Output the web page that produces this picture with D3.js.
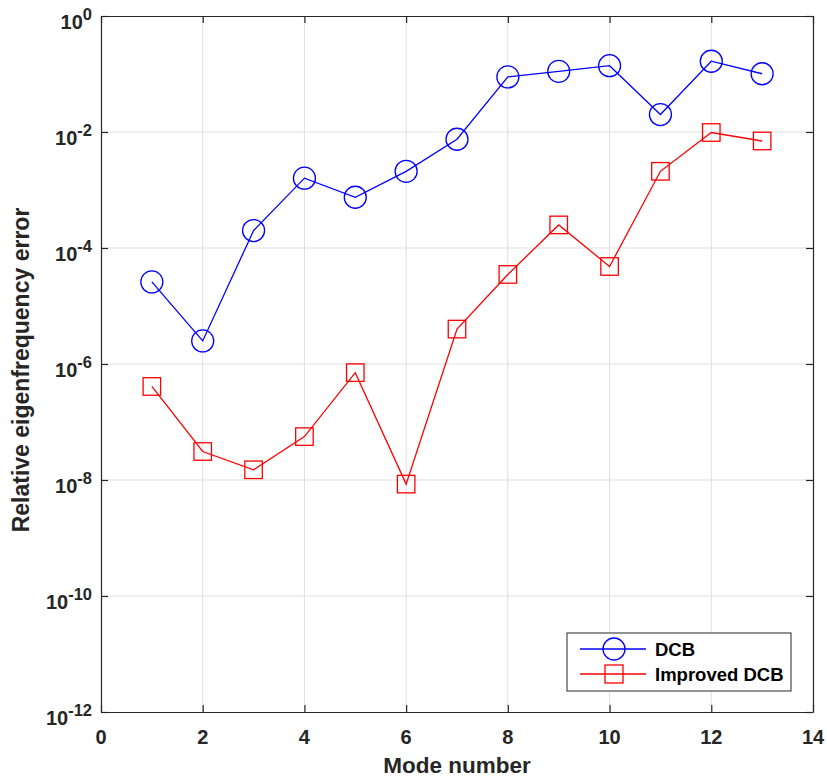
<!DOCTYPE html>
<head>
<meta charset="utf-8">
<title>Relative eigenfrequency error</title>
<script src="https://d3js.org/d3.v7.min.js"></script>
<style>
  body { margin: 0; background: #fff; }
  text { font-family: "Liberation Sans", Arial, sans-serif; font-weight: bold; fill: #262626; }
</style>
</head>
<body>
<div id="chart"></div>
<script>
//------------------------ DATA ------------------------//
const modes = [1, 2, 3, 4, 5, 6, 7, 8, 9, 10, 11, 12, 13];
const dcb = [2.6e-5, 2.5e-6, 2.0e-4, 1.6e-3, 7.5e-4, 2.1e-3, 7.5e-3,
             0.089, 0.111, 0.139, 0.020, 0.166, 0.101];
const improvedDcb = [4.1e-7, 3.1e-8, 1.5e-8, 5.6e-8, 7.1e-7, 8.5e-9, 4.0e-6,
                     3.5e-5, 2.5e-4, 4.8e-5, 2.1e-3, 9.8e-3, 7.0e-3];
const xTicks = [0, 2, 4, 6, 8, 10, 12, 14];
const yExps = [0, -2, -4, -6, -8, -10, -12];
const seriesNames = ["DCB", "Improved DCB"];

//------------------------ SETUP ------------------------//
const W = 827, H = 778;
const m = {left: 101, right: 813, top: 16, bottom: 712};
const axisCol = "#262626", gridCol = "#dfdfdf";

const svg = d3.select("#chart").append("svg")
    .attr("width", W).attr("height", H);

const x = d3.scaleLinear().domain([0, 14]).range([m.left, m.right]);
const y = d3.scaleLog().domain([1e-12, 1]).range([m.bottom, m.top]);

//------------------------ GRID ------------------------//
const grid = svg.append("g").attr("stroke", gridCol).attr("stroke-width", 1);
grid.selectAll(".gx").data(xTicks.slice(1, -1)).enter().append("line")
    .attr("x1", d => x(d)).attr("x2", d => x(d))
    .attr("y1", m.top).attr("y2", m.bottom);
grid.selectAll(".gy").data(yExps.slice(1, -1)).enter().append("line")
    .attr("x1", m.left).attr("x2", m.right)
    .attr("y1", d => y(Math.pow(10, d))).attr("y2", d => y(Math.pow(10, d)));

//------------------------ AXES ------------------------//
// ticks point inwards on all four sides, like MATLAB box on
const tk = 7;
const styleAxis = g => g.selectAll("line,path").attr("stroke", axisCol).attr("stroke-width", 1.2);
svg.append("g").attr("transform", "translate(0," + m.bottom + ")")
    .call(d3.axisBottom(x).tickValues(xTicks).tickSize(-tk).tickSizeOuter(0).tickFormat(""))
    .call(styleAxis);
svg.append("g").attr("transform", "translate(0," + m.top + ")")
    .call(d3.axisTop(x).tickValues(xTicks).tickSize(-tk).tickSizeOuter(0).tickFormat(""))
    .call(styleAxis);
const yVals = yExps.map(e => Math.pow(10, e));
svg.append("g").attr("transform", "translate(" + m.left + ",0)")
    .call(d3.axisLeft(y).tickValues(yVals).tickSize(-tk).tickSizeOuter(0).tickFormat(""))
    .call(styleAxis);
svg.append("g").attr("transform", "translate(" + m.right + ",0)")
    .call(d3.axisRight(y).tickValues(yVals).tickSize(-tk).tickSizeOuter(0).tickFormat(""))
    .call(styleAxis);

// x tick labels
svg.append("g").selectAll("text").data(xTicks).enter().append("text")
    .attr("x", d => x(d)).attr("y", m.bottom + 32)
    .attr("text-anchor", "middle").style("font-size", "20px")
    .text(d => d);

// y tick labels 10^n
const yl = svg.append("g").selectAll("text").data(yExps).enter().append("text")
    .attr("x", m.left - 9).attr("y", d => y(Math.pow(10, d)) + 13)
    .attr("text-anchor", "end").style("font-size", "20px");
yl.append("tspan").text("10");
yl.append("tspan").attr("dy", -9).style("font-size", "16.5px").text(d => d);

// axis labels
svg.append("text")
    .attr("x", (m.left + m.right) / 2).attr("y", 773)
    .attr("text-anchor", "middle").style("font-size", "22.5px")
    .text("Mode number");
svg.append("text")
    .attr("transform", "translate(29," + ((m.top + m.bottom) / 2 + 6) + ") rotate(-90)")
    .attr("text-anchor", "middle").style("font-size", "23px")
    .text("Relative eigenfrequency error");

//------------------------ LINES ------------------------//
const line = d3.line()
    .x((d, i) => x(modes[i]))
    .y(d => y(d));

svg.append("path").datum(dcb)
    .attr("d", line).attr("fill", "none")
    .attr("stroke", "#0000ff").attr("stroke-width", 1.3);
svg.append("path").datum(improvedDcb)
    .attr("d", line).attr("fill", "none")
    .attr("stroke", "#ff0000").attr("stroke-width", 1.3);

// markers
svg.append("g").selectAll("circle").data(dcb).enter().append("circle")
    .attr("cx", (d, i) => x(modes[i])).attr("cy", d => y(d))
    .attr("r", 11).attr("fill", "none")
    .attr("stroke", "#0000ff").attr("stroke-width", 1.3);
const sq = 17.5;
svg.append("g").selectAll("rect").data(improvedDcb).enter().append("rect")
    .attr("x", (d, i) => x(modes[i]) - sq / 2).attr("y", d => y(d) - sq / 2)
    .attr("width", sq).attr("height", sq).attr("fill", "none")
    .attr("stroke", "#ff0000").attr("stroke-width", 1.3);

//------------------------ LEGEND ------------------------//
const lg = svg.append("g");
lg.append("rect")
    .attr("x", 567).attr("y", 633).attr("width", 224).attr("height", 58)
    .attr("fill", "#fff").attr("stroke", axisCol).attr("stroke-width", 1);
const rows = [649, 674];
const colors = ["#0000ff", "#ff0000"];
rows.forEach((ry, i) => {
    lg.append("line").attr("x1", 580).attr("x2", 646).attr("y1", ry).attr("y2", ry)
        .attr("stroke", colors[i]).attr("stroke-width", 1.3);
    if (i === 0) {
        lg.append("circle").attr("cx", 614).attr("cy", ry).attr("r", 11)
            .attr("fill", "none").attr("stroke", colors[i]).attr("stroke-width", 1.3);
    } else {
        lg.append("rect").attr("x", 614 - 9).attr("y", ry - 9).attr("width", 18).attr("height", 18)
            .attr("fill", "none").attr("stroke", colors[i]).attr("stroke-width", 1.3);
    }
    lg.append("text").attr("x", 655).attr("y", ry + 7)
        .style("font-size", "18.5px").style("fill", "#000")
        .text(seriesNames[i]);
});
</script>
</body>
